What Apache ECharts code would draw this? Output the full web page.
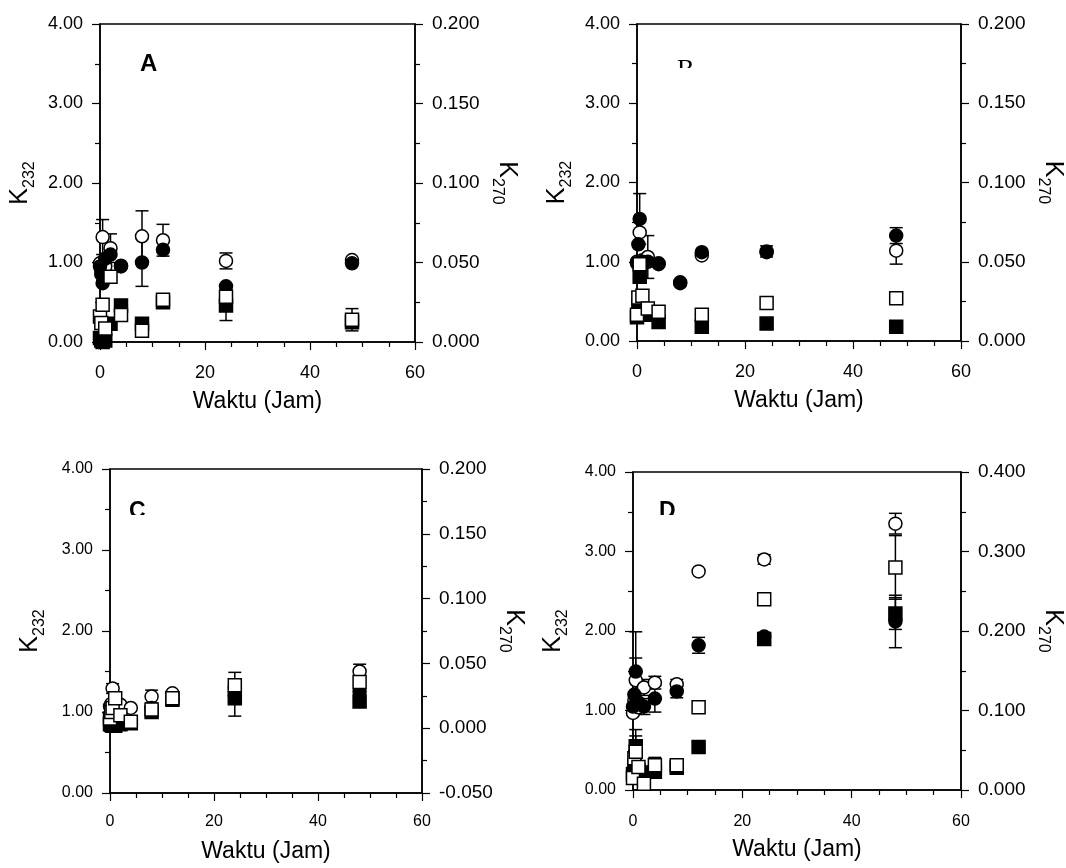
<!DOCTYPE html>
<html>
<head>
<meta charset="utf-8">
<script src="https://cdn.jsdelivr.net/npm/echarts@6/dist/echarts.min.js"></script>
<style>
  html, body { margin: 0; padding: 0; background: #fff; }
  #chart { width: 1066px; height: 868px; }
</style>
</head>
<body>
<div id="chart"></div>
<script>
// sampling times (h)
const hours = [0, 0.25, 0.5, 1, 2, 4, 8, 12, 24, 48];

// panel A  (circles: K232 left axis, squares: K270 right axis)
const aFilledCircle = [0.95, 0.85, 0.74, 1.05, 1.10, 0.96, 1.00, 1.16, 0.70, 0.99];
const aFilledCircleErr = [0, 0, 0, 0, 0, 0, 0.30, 0, 0, 0];
const aOpenCircle = [0.99, 0.90, 1.32, 0.95, 1.18, 0.95, 1.33, 1.28, 1.02, 1.03];
const aOpenCircleErr = [0, 0, 0.22, 0, 0.18, 0, 0.32, 0.20, 0.10, 0];
const aFilledSquare = [0.0025, 0.001, 0.0, 0.001, 0.0115, 0.023, 0.0115, 0.025, 0.023, 0.0125];
const aFilledSquareErr = [0, 0, 0, 0, 0, 0, 0, 0, 0.0095, 0];
const aOpenSquare = [0.016, 0.012, 0.0235, 0.0085, 0.041, 0.017, 0.007, 0.0265, 0.0285, 0.014];
const aOpenSquareErr = [0, 0, 0, 0, 0, 0, 0, 0, 0, 0.007];

// panel B
const bFilledCircle = [0.98, 1.22, 1.54, 1.00, 1.00, 0.98, 0.74, 1.12, 1.13, 1.33];
const bFilledCircleErr = [0, 0, 0.32, 0, 0, 0, 0, 0, 0.07, 0.10];
const bOpenCircle = [1.00, 0.98, 1.37, 1.02, 1.06, 0.97, 0.73, 1.08, 1.12, 1.14];
const bOpenCircleErr = [0, 0, 0, 0, 0.27, 0, 0, 0, 0, 0.17];
const bFilledSquare = [0.015, 0.0225, 0.0405, 0.020, 0.0165, 0.012, null, 0.009, 0.011, 0.009];
const bFilledSquareErr = [0, 0, 0, 0, 0, 0, 0, 0, 0, 0];
const bOpenSquare = [0.0165, 0.0275, 0.0485, 0.0285, 0.0205, 0.0185, null, 0.0165, 0.024, 0.027];
const bOpenSquareErr = [0, 0, 0, 0, 0, 0, 0, 0, 0, 0];

// panel C
const cFilledCircle = [0.90, 0.88, 0.85, 0.88, 0.88, 0.88, 1.05, 1.15, 1.20, 1.25];
const cFilledCircleErr = [0, 0, 0, 0, 0, 0, 0, 0, 0, 0];
const cOpenCircle = [1.07, 1.10, 1.29, 1.10, 1.09, 1.05, 1.19, 1.23, 1.30, 1.50];
const cOpenCircleErr = [0, 0, 0.06, 0, 0, 0, 0.08, 0, 0, 0.09];
const cFilledSquare = [0.0031, 0.0025, 0.0019, 0.0019, 0.0031, 0.0038, 0.0125, 0.0219, 0.0231, 0.0206];
const cFilledSquareErr = [0, 0, 0, 0, 0, 0, 0, 0, 0.0138, 0];
const cOpenSquare = [0.0075, 0.0125, 0.0156, 0.0231, 0.010, 0.005, 0.0144, 0.0231, 0.0331, 0.0356];
const cOpenSquareErr = [0, 0, 0, 0, 0, 0, 0, 0, 0.010, 0];

// panel D
const dFilledCircle = [1.05, 1.20, 1.49, 1.10, 1.05, 1.15, 1.24, 1.82, 1.93, 2.12];
const dFilledCircleErr = [0, 0, 0.50, 0, 0.10, 0.17, 0.08, 0.10, 0.05, 0.33];
const dOpenCircle = [0.97, 1.13, 1.38, 1.04, 1.29, 1.35, 1.33, 2.75, 2.90, 3.35];
const dOpenCircleErr = [0, 0, 0.28, 0, 0.10, 0.08, 0.06, 0, 0.06, 0.13];
const dFilledSquare = [0.020, 0.030, 0.055, 0.025, 0.022, 0.023, 0.028, 0.054, 0.190, 0.222];
const dFilledSquareErr = [0, 0, 0.021, 0, 0, 0, 0, 0, 0, 0.020];
const dOpenSquare = [0.015, 0.040, 0.048, 0.029, 0.008, 0.031, 0.031, 0.104, 0.240, 0.280];
const dOpenSquareErr = [0, 0, 0.020, 0, 0, 0.010, 0, 0, 0.005, 0.040];

// axis ticks
const xTicks = { min: 0, max: 60, interval: 20 };
const leftTicks = { min: 0, max: 4, interval: 1 };
const rightTicksABC = [
  { min: 0, max: 0.2, interval: 0.05 },
  { min: 0, max: 0.2, interval: 0.05 },
  { min: -0.05, max: 0.2, interval: 0.05 }
];
const rightTicksD = { min: 0, max: 0.4, interval: 0.1 };

const FONT = '"Liberation Sans", Arial, sans-serif';

const panels = [
  { grid: { left: 100, top: 24, width: 315, height: 318 }, right: rightTicksABC[0], yFont: 18, xFont: 18, xMargin: 22, nameGap: 48,
    fc: aFilledCircle, fcE: aFilledCircleErr, oc: aOpenCircle, ocE: aOpenCircleErr,
    fs: aFilledSquare, fsE: aFilledSquareErr, os: aOpenSquare, osE: aOpenSquareErr },
  { grid: { left: 637, top: 24, width: 326, height: 317 }, right: rightTicksABC[1], yFont: 18, xFont: 18, xMargin: 22, nameGap: 48,
    fc: bFilledCircle, fcE: bFilledCircleErr, oc: bOpenCircle, ocE: bOpenCircleErr,
    fs: bFilledSquare, fsE: bFilledSquareErr, os: bOpenSquare, osE: bOpenSquareErr },
  { grid: { left: 110, top: 469, width: 312, height: 324 }, right: rightTicksABC[2], yFont: 16, xFont: 16, xMargin: 21, nameGap: 47,
    fc: cFilledCircle, fcE: cFilledCircleErr, oc: cOpenCircle, ocE: cOpenCircleErr,
    fs: cFilledSquare, fsE: cFilledSquareErr, os: cOpenSquare, osE: cOpenSquareErr },
  { grid: { left: 633, top: 472, width: 329, height: 318 }, right: rightTicksD, yFont: 16, xFont: 16, xMargin: 24, nameGap: 48,
    fc: dFilledCircle, fcE: dFilledCircleErr, oc: dOpenCircle, ocE: dOpenCircleErr,
    fs: dFilledSquare, fsE: dFilledSquareErr, os: dOpenSquare, osE: dOpenSquareErr }
];

const axisLine = { show: true, onZero: false, lineStyle: { color: '#000', width: 1.5 } };
const axisTick = { show: true, length: 8, lineStyle: { color: '#000', width: 1.2 } };
const minorTick = (n) => ({ show: true, splitNumber: n, length: 5, lineStyle: { color: '#000', width: 1.2 } });

const subName = (base, sub) => `{k|${base}}{s|${sub}}`;
const subRich = {
  k: { fontSize: 25, fontFamily: FONT, color: '#000', lineHeight: 30, verticalAlign: 'top' },
  s: { fontSize: 16, fontFamily: FONT, color: '#000', lineHeight: 30, verticalAlign: 'bottom' }
};

const grids = [], xAxes = [], yAxes = [], errSeries = [], markSeries = [];

function errorItem(params, api) {
  const x = api.value(0), y = api.value(1), e = api.value(2);
  const top = api.coord([x, y + e]);
  const bot = api.coord([x, y - e]);
  const hw = 6.5;
  const style = { stroke: '#000', lineWidth: 1.5 };
  return {
    type: 'group',
    children: [
      { type: 'line', shape: { x1: top[0], y1: top[1], x2: bot[0], y2: bot[1] }, style },
      { type: 'line', shape: { x1: top[0] - hw, y1: top[1], x2: top[0] + hw, y2: top[1] }, style },
      { type: 'line', shape: { x1: bot[0] - hw, y1: bot[1], x2: bot[0] + hw, y2: bot[1] }, style }
    ]
  };
}

panels.forEach((p, i) => {
  grids.push(Object.assign({ show: true, borderColor: '#000', borderWidth: 1.5, backgroundColor: 'transparent' }, p.grid));
  xAxes.push({
    type: 'value', gridIndex: i, min: xTicks.min, max: xTicks.max, interval: xTicks.interval,
    axisLine, axisTick, minorTick: minorTick(4), splitLine: { show: false },
    axisLabel: { color: '#000', fontSize: p.xFont, fontFamily: FONT, margin: p.xMargin },
    name: 'Waktu (Jam)', nameLocation: 'middle', nameGap: p.nameGap,
    nameTextStyle: { color: '#000', fontSize: 23, fontFamily: FONT }
  });
  yAxes.push({
    type: 'value', gridIndex: i, position: 'left', min: leftTicks.min, max: leftTicks.max, interval: leftTicks.interval,
    axisLine, axisTick, minorTick: minorTick(2), splitLine: { show: false },
    axisLabel: { color: '#000', fontSize: p.yFont, fontFamily: FONT, margin: 17, formatter: v => v.toFixed(2) },
    name: subName('K', '232'), nameLocation: 'middle', nameGap: 62, nameRotate: 90,
    nameTextStyle: { rich: subRich }
  });
  yAxes.push({
    type: 'value', gridIndex: i, position: 'right', min: p.right.min, max: p.right.max, interval: p.right.interval,
    axisLine, axisTick, minorTick: minorTick(2), splitLine: { show: false },
    axisLabel: { color: '#000', fontSize: 19, fontFamily: FONT, margin: 17, formatter: v => v.toFixed(3) },
    name: subName('K', '270'), nameLocation: 'middle', nameGap: 74, nameRotate: -90,
    nameTextStyle: { rich: subRich }
  });

  const sets = [
    { vals: p.oc, err: p.ocE, y: 2 * i, symbol: 'circle', fill: '#fff' },
    { vals: p.fc, err: p.fcE, y: 2 * i, symbol: 'circle', fill: '#000' },
    { vals: p.fs, err: p.fsE, y: 2 * i + 1, symbol: 'rect', fill: '#000' },
    { vals: p.os, err: p.osE, y: 2 * i + 1, symbol: 'rect', fill: '#fff' }
  ];
  sets.forEach(s => {
    const errData = [];
    const pts = [];
    hours.forEach((h, k) => {
      if (s.vals[k] == null) return;
      pts.push([h, s.vals[k]]);
      if (s.err[k] > 0) errData.push([h, s.vals[k], s.err[k]]);
    });
    errSeries.push({
      type: 'custom', xAxisIndex: i, yAxisIndex: s.y, renderItem: errorItem,
      data: errData, encode: { x: 0, y: 1 }, z: 2, silent: true
    });
    markSeries.push({
      type: 'scatter', xAxisIndex: i, yAxisIndex: s.y, data: pts, z: 3,
      symbol: s.symbol, symbolSize: 13,
      itemStyle: { color: s.fill, borderColor: '#000', borderWidth: 1.5, opacity: 1 },
      silent: true
    });
  });
});

const letter = (txt, x, y, font) => ({
  type: 'text', left: x, top: y, z: 10,
  style: { text: txt, font, fill: '#000' }
});
// the panel letters are clipped at the bottom in the original figure
const mask = (x, y, w, h) => ({
  type: 'rect', shape: { x, y, width: w, height: h }, z: 11,
  style: { fill: '#fff' }
});

const chart = echarts.init(document.getElementById('chart'), null, { renderer: 'canvas' });
chart.setOption({
  animation: false,
  backgroundColor: '#fff',
  grid: grids,
  xAxis: xAxes,
  yAxis: yAxes,
  series: errSeries.concat(markSeries),
  graphic: [
    letter('A', 140, 52, 'bold 24px ' + FONT),
    letter('B', 677, 57, '26px "Liberation Serif", serif'),
    mask(670, 68, 40, 20),
    letter('C', 129, 500, 'bold 23px ' + FONT),
    mask(120, 515, 40, 20),
    letter('D', 659, 500, 'bold 23px ' + FONT),
    mask(650, 515, 40, 20)
  ]
});
</script>
</body>
</html>
